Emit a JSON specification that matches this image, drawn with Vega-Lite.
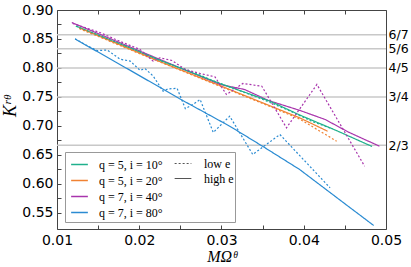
{
  "$schema": "https://vega.github.io/schema/vega-lite/v6.json",
  "width": 329,
  "height": 219,
  "autosize": {"type": "none"},
  "padding": {"left": 57, "top": 10, "right": 25, "bottom": 38},
  "config": {
    "view": {"stroke": "#444", "strokeWidth": 1},
    "axis": {"domain": false, "grid": false, "labelColor": "black", "tickColor": "#444", "titleColor": "black", "labelFont": "DejaVu Sans"}
  },
  "datasets": {
    "curves": [
      {"combo": "q = 7, i = 40°", "e": "high e", "x": 0.0118, "y": 0.8784},
      {"combo": "q = 7, i = 40°", "e": "high e", "x": 0.0200, "y": 0.8296},
      {"combo": "q = 7, i = 40°", "e": "high e", "x": 0.0298, "y": 0.7716},
      {"combo": "q = 7, i = 40°", "e": "high e", "x": 0.0328, "y": 0.7630},
      {"combo": "q = 7, i = 40°", "e": "high e", "x": 0.0357, "y": 0.7440},
      {"combo": "q = 7, i = 40°", "e": "high e", "x": 0.0395, "y": 0.7270},
      {"combo": "q = 7, i = 40°", "e": "high e", "x": 0.0426, "y": 0.7112},
      {"combo": "q = 7, i = 40°", "e": "high e", "x": 0.0455, "y": 0.6890},
      {"combo": "q = 7, i = 40°", "e": "high e", "x": 0.0492, "y": 0.6652},

      {"combo": "q = 5, i = 10°", "e": "high e", "x": 0.0123, "y": 0.8724},
      {"combo": "q = 5, i = 10°", "e": "high e", "x": 0.0213, "y": 0.8200},
      {"combo": "q = 5, i = 10°", "e": "high e", "x": 0.0298, "y": 0.7733},
      {"combo": "q = 5, i = 10°", "e": "high e", "x": 0.0359, "y": 0.7428},
      {"combo": "q = 5, i = 10°", "e": "high e", "x": 0.0395, "y": 0.7190},
      {"combo": "q = 5, i = 10°", "e": "high e", "x": 0.0440, "y": 0.6920},
      {"combo": "q = 5, i = 10°", "e": "high e", "x": 0.0483, "y": 0.6647},

      {"combo": "q = 5, i = 20°", "e": "high e", "x": 0.0127, "y": 0.8693},
      {"combo": "q = 5, i = 20°", "e": "high e", "x": 0.0220, "y": 0.8140},
      {"combo": "q = 5, i = 20°", "e": "high e", "x": 0.0310, "y": 0.7629},
      {"combo": "q = 5, i = 20°", "e": "high e", "x": 0.0395, "y": 0.7141},
      {"combo": "q = 5, i = 20°", "e": "high e", "x": 0.0429, "y": 0.6910},

      {"combo": "q = 5, i = 20°", "e": "low e", "x": 0.0127, "y": 0.8680},
      {"combo": "q = 5, i = 20°", "e": "low e", "x": 0.0200, "y": 0.8250},
      {"combo": "q = 5, i = 20°", "e": "low e", "x": 0.0280, "y": 0.7790},
      {"combo": "q = 5, i = 20°", "e": "low e", "x": 0.0350, "y": 0.7390},
      {"combo": "q = 5, i = 20°", "e": "low e", "x": 0.0395, "y": 0.7120},
      {"combo": "q = 5, i = 20°", "e": "low e", "x": 0.0440, "y": 0.6738},

      {"combo": "q = 5, i = 10°", "e": "low e", "x": 0.0123, "y": 0.8720},
      {"combo": "q = 5, i = 10°", "e": "low e", "x": 0.0160, "y": 0.8510},
      {"combo": "q = 5, i = 10°", "e": "low e", "x": 0.0200, "y": 0.8290},
      {"combo": "q = 5, i = 10°", "e": "low e", "x": 0.0230, "y": 0.8100},
      {"combo": "q = 5, i = 10°", "e": "low e", "x": 0.0260, "y": 0.7960},
      {"combo": "q = 5, i = 10°", "e": "low e", "x": 0.0290, "y": 0.7780},
      {"combo": "q = 5, i = 10°", "e": "low e", "x": 0.0320, "y": 0.7620},
      {"combo": "q = 5, i = 10°", "e": "low e", "x": 0.0350, "y": 0.7460},
      {"combo": "q = 5, i = 10°", "e": "low e", "x": 0.0380, "y": 0.7280},
      {"combo": "q = 5, i = 10°", "e": "low e", "x": 0.0410, "y": 0.7080},
      {"combo": "q = 5, i = 10°", "e": "low e", "x": 0.0435, "y": 0.6950},

      {"combo": "q = 7, i = 40°", "e": "low e", "x": 0.0119, "y": 0.8767},
      {"combo": "q = 7, i = 40°", "e": "low e", "x": 0.0152, "y": 0.8612},
      {"combo": "q = 7, i = 40°", "e": "low e", "x": 0.0177, "y": 0.8457},
      {"combo": "q = 7, i = 40°", "e": "low e", "x": 0.0201, "y": 0.8319},
      {"combo": "q = 7, i = 40°", "e": "low e", "x": 0.0217, "y": 0.8117},
      {"combo": "q = 7, i = 40°", "e": "low e", "x": 0.0225, "y": 0.8176},
      {"combo": "q = 7, i = 40°", "e": "low e", "x": 0.0240, "y": 0.8129},
      {"combo": "q = 7, i = 40°", "e": "low e", "x": 0.0256, "y": 0.7974},
      {"combo": "q = 7, i = 40°", "e": "low e", "x": 0.0274, "y": 0.7905},
      {"combo": "q = 7, i = 40°", "e": "low e", "x": 0.0292, "y": 0.7848},
      {"combo": "q = 7, i = 40°", "e": "low e", "x": 0.0306, "y": 0.7543},
      {"combo": "q = 7, i = 40°", "e": "low e", "x": 0.0326, "y": 0.7733},
      {"combo": "q = 7, i = 40°", "e": "low e", "x": 0.0349, "y": 0.7686},
      {"combo": "q = 7, i = 40°", "e": "low e", "x": 0.0361, "y": 0.7400},
      {"combo": "q = 7, i = 40°", "e": "low e", "x": 0.0379, "y": 0.6969},
      {"combo": "q = 7, i = 40°", "e": "low e", "x": 0.0416, "y": 0.7716},
      {"combo": "q = 7, i = 40°", "e": "low e", "x": 0.0474, "y": 0.6307},

      {"combo": "q = 7, i = 80°", "e": "high e", "x": 0.0122, "y": 0.8500},
      {"combo": "q = 7, i = 80°", "e": "high e", "x": 0.0189, "y": 0.7960},
      {"combo": "q = 7, i = 80°", "e": "high e", "x": 0.0249, "y": 0.7470},
      {"combo": "q = 7, i = 80°", "e": "high e", "x": 0.0310, "y": 0.6997},
      {"combo": "q = 7, i = 80°", "e": "high e", "x": 0.0350, "y": 0.6650},
      {"combo": "q = 7, i = 80°", "e": "high e", "x": 0.0395, "y": 0.6250},
      {"combo": "q = 7, i = 80°", "e": "high e", "x": 0.0456, "y": 0.5595},
      {"combo": "q = 7, i = 80°", "e": "high e", "x": 0.0485, "y": 0.5285},

      {"combo": "q = 7, i = 80°", "e": "low e", "x": 0.0122, "y": 0.8503},
      {"combo": "q = 7, i = 80°", "e": "low e", "x": 0.0138, "y": 0.8376},
      {"combo": "q = 7, i = 80°", "e": "low e", "x": 0.0149, "y": 0.8300},
      {"combo": "q = 7, i = 80°", "e": "low e", "x": 0.0161, "y": 0.8310},
      {"combo": "q = 7, i = 80°", "e": "low e", "x": 0.0177, "y": 0.8150},
      {"combo": "q = 7, i = 80°", "e": "low e", "x": 0.0189, "y": 0.8120},
      {"combo": "q = 7, i = 80°", "e": "low e", "x": 0.0201, "y": 0.7960},
      {"combo": "q = 7, i = 80°", "e": "low e", "x": 0.0207, "y": 0.7990},
      {"combo": "q = 7, i = 80°", "e": "low e", "x": 0.0217, "y": 0.7860},
      {"combo": "q = 7, i = 80°", "e": "low e", "x": 0.0229, "y": 0.7600},
      {"combo": "q = 7, i = 80°", "e": "low e", "x": 0.0235, "y": 0.7640},
      {"combo": "q = 7, i = 80°", "e": "low e", "x": 0.0246, "y": 0.7650},
      {"combo": "q = 7, i = 80°", "e": "low e", "x": 0.0256, "y": 0.7300},
      {"combo": "q = 7, i = 80°", "e": "low e", "x": 0.0265, "y": 0.7370},
      {"combo": "q = 7, i = 80°", "e": "low e", "x": 0.0274, "y": 0.7457},
      {"combo": "q = 7, i = 80°", "e": "low e", "x": 0.0290, "y": 0.6888},
      {"combo": "q = 7, i = 80°", "e": "low e", "x": 0.0310, "y": 0.7169},
      {"combo": "q = 7, i = 80°", "e": "low e", "x": 0.0338, "y": 0.6509},
      {"combo": "q = 7, i = 80°", "e": "low e", "x": 0.0371, "y": 0.6853},
      {"combo": "q = 7, i = 80°", "e": "low e", "x": 0.0432, "y": 0.5934}
    ]
  },
  "layer": [
    {
      "data": {"values": [
        {"frac": 0.8571428571, "name": "6/7"},
        {"frac": 0.8333333333, "name": "5/6"},
        {"frac": 0.8, "name": "4/5"},
        {"frac": 0.75, "name": "3/4"},
        {"frac": 0.6666666667, "name": "2/3"}
      ]},
      "mark": {"type": "rule", "color": "#c8c8c8", "strokeWidth": 1.5},
      "encoding": {
        "y": {
          "field": "frac", "type": "quantitative",
          "scale": {"domain": [0.5224, 0.9], "nice": false, "zero": false},
          "axis": {
            "orient": "right", "title": null, "ticks": false,
            "values": [0.8571428571, 0.8333333333, 0.8, 0.75, 0.6666666667],
            "labelExpr": "datum.value > 0.85 ? '6/7' : datum.value > 0.82 ? '5/6' : datum.value > 0.78 ? '4/5' : datum.value > 0.7 ? '3/4' : '2/3'",
            "labelFontSize": 12.5, "labelPadding": 2
          }
        }
      }
    },
    {
      "data": {"name": "curves"},
      "mark": {"type": "line", "opacity": 0},
      "encoding": {
        "x": {
          "field": "x", "type": "quantitative",
          "scale": {"domain": [0.01, 0.05], "nice": false, "zero": false},
          "axis": {
            "orient": "top", "labels": false, "title": null, "tickSize": -4,
            "values": [0.01, 0.015, 0.02, 0.025, 0.03, 0.035, 0.04, 0.045, 0.05]
          }
        },
        "y": {
          "field": "y", "type": "quantitative",
          "scale": {"domain": [0.5224, 0.9], "nice": false, "zero": false},
          "axis": null
        }
      }
    },
    {
      "data": {"name": "curves"},
      "mark": {"type": "line", "strokeWidth": 1.2, "clip": true},
      "encoding": {
        "x": {
          "field": "x", "type": "quantitative",
          "scale": {"domain": [0.01, 0.05], "nice": false, "zero": false},
          "axis": {
            "orient": "bottom",
            "values": [0.01, 0.015, 0.02, 0.025, 0.03, 0.035, 0.04, 0.045, 0.05],
            "labelExpr": "round(datum.value*1000) % 10 == 0 ? format(datum.value, '.2f') : ''",
            "labelFontSize": 14, "tickSize": -4, "labelPadding": 8, "labelFlush": false,
            "title": "MΩᶿ", "titleFont": "Liberation Serif", "titleFontStyle": "italic", "titleFontWeight": "normal", "titleFontSize": 16, "titlePadding": 1
          }
        },
        "y": {
          "field": "y", "type": "quantitative",
          "scale": {"domain": [0.5224, 0.9], "nice": false, "zero": false},
          "axis": {
            "orient": "left",
            "values": [0.55, 0.575, 0.6, 0.625, 0.65, 0.675, 0.7, 0.725, 0.75, 0.775, 0.8, 0.825, 0.85, 0.875, 0.9],
            "labelExpr": "round(datum.value*1000) % 50 == 0 ? format(datum.value, '.2f') : ''",
            "labelFontSize": 14, "tickSize": -4, "labelPadding": 8, "labelFlush": false,
            "title": "Kʳᶿ", "titleFont": "Liberation Serif", "titleFontStyle": "italic", "titleFontWeight": "normal", "titleFontSize": 18, "titlePadding": 2, "titleY": 96
          }
        },
        "color": {
          "field": "combo", "type": "nominal",
          "scale": {
            "domain": ["q = 5, i = 10°", "q = 5, i = 20°", "q = 7, i = 40°", "q = 7, i = 80°"],
            "range": ["#1fb08c", "#f08232", "#a834ac", "#2a8bd2"]
          },
          "legend": {
            "orient": "none", "legendX": 8, "legendY": 142, "title": null,
            "symbolType": "stroke", "symbolSize": 280, "symbolStrokeWidth": 1.5,
            "labelFont": "Liberation Serif", "labelFontSize": 12, "labelColor": "black",
            "padding": 3, "rowPadding": 0, "symbolOffset": 2, "labelOffset": 10,
            "strokeColor": "#999", "fillColor": "white",
            "labelExpr": "datum.label + '\u00a0\u00a0\u00a0\u00a0\u00a0\u00a0\u00a0\u00a0\u00a0\u00a0\u00a0\u00a0\u00a0\u00a0\u00a0\u00a0\u00a0\u00a0\u00a0\u00a0\u00a0\u00a0\u00a0\u200b'"
          }
        },
        "strokeDash": {
          "field": "e", "type": "nominal",
          "scale": {"domain": ["low e", "high e"], "range": [[2, 2], [1, 0]]},
          "legend": {
            "orient": "none", "legendX": 117, "legendY": 144.5, "title": null,
            "symbolType": "stroke", "symbolSize": 280, "symbolStrokeWidth": 1.2, "symbolStrokeColor": "#555",
            "labelFont": "Liberation Serif", "labelFontSize": 12, "labelColor": "black",
            "padding": 0, "rowPadding": 0, "labelOffset": 12
          }
        }
      }
    }
  ],
  "resolve": {"axis": {"y": "independent", "x": "independent"}}
}
